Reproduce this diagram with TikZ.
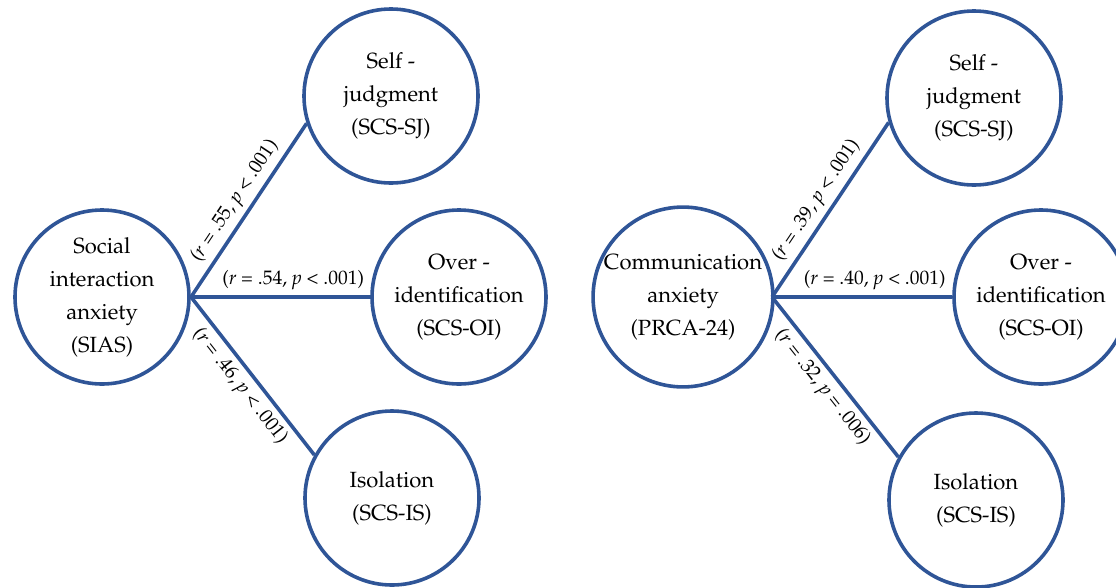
\documentclass[tikz,border=0pt]{standalone}
\usepackage[T1]{fontenc}
\usepackage{mathpazo}
\definecolor{cblue}{RGB}{47,85,151}
\tikzset{
  var/.style={circle, draw=cblue, line width=3.6pt, minimum size=174pt, inner sep=0pt, align=center, font=\fontsize{22}{33}\selectfont, text=black},
  conn/.style={draw=cblue, line width=3.6pt},
  lab/.style={font=\fontsize{19.5}{21}\selectfont, sloped, inner sep=5pt, text=black}
}
\newcommand{\rp}[3]{(\textit{r} = #1, \textit{p} #2 #3)}
\begin{document}
\begin{tikzpicture}[x=1pt,y=-1pt]
\useasboundingbox (0,0) rectangle (1116,587);
% left panel
\node[var] (sias) at (102,297) {Social\\interaction\\anxiety\\(SIAS)};
\node[var] (sj1) at (391,96) {Self -\\judgment\\(SCS-SJ)};
\node[var] (oi1) at (459,297) {Over -\\identification\\(SCS-OI)};
\node[var] (is1) at (392,498) {Isolation\\(SCS-IS)};
\coordinate (h1) at (191,297);
\draw[conn] (h1) -- node[lab, above] {\rp{.55}{\textless}{.001}} (sj1.198);
\draw[conn] (h1) -- node[lab, above, pos=0.57] {\rp{.54}{\textless}{.001}} (oi1);
\draw[conn] (h1) -- node[lab, below] {\rp{.46}{\textless}{.001}} (is1.151);
% right panel
\node[var] (prca) at (683,297) {Communication\\anxiety\\(PRCA-24)};
\node[var] (sj2) at (974,98) {Self -\\judgment\\(SCS-SJ)};
\node[var] (oi2) at (1041,297) {Over -\\identification\\(SCS-OI)};
\node[var] (is2) at (976,500) {Isolation\\(SCS-IS)};
\coordinate (h2) at (772,297);
\draw[conn] (h2) -- node[lab, above] {\rp{.39}{\textless}{.001}} (sj2.196);
\draw[conn] (h2) -- node[lab, above, pos=0.57] {\rp{.40}{\textless}{.001}} (oi2);
\draw[conn] (h2) -- node[lab, below] {\rp{.32}{=}{.006}} (is2.151);
\end{tikzpicture}
\end{document}
